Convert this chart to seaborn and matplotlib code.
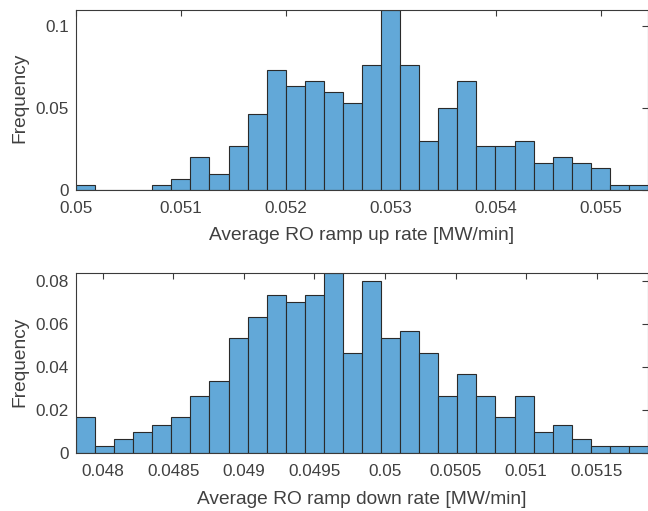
import numpy as np
import pandas as pd
import seaborn as sns
import matplotlib
matplotlib.use("Agg")
import matplotlib.pyplot as plt

# ---- data (counts per bin, 300 samples each; plotted as relative frequency) ----
up_range = [0.05, 0.05545]          # bin limits, ramp up
up_counts = [1, 0, 0, 0, 1, 2, 6, 3, 8, 14, 22, 19, 20, 18, 16,
             23, 33, 23, 9, 15, 20, 8, 8, 9, 5, 6, 5, 4, 1, 1]
up_xticks = [0.05, 0.051, 0.052, 0.053, 0.054, 0.055]
up_xticklabels = ["0.05", "0.051", "0.052", "0.053", "0.054", "0.055"]
up_yticks = [0, 0.05, 0.1]
up_yticklabels = ["0", "0.05", "0.1"]

down_range = [0.047811, 0.051863]   # bin limits, ramp down
down_counts = [5, 1, 2, 3, 4, 5, 8, 10, 16, 19, 22, 21, 22, 25, 14,
               24, 16, 17, 14, 8, 11, 8, 5, 8, 3, 4, 2, 1, 1, 1]
down_xticks = [0.048, 0.0485, 0.049, 0.0495, 0.05, 0.0505, 0.051, 0.0515]
down_xticklabels = ["0.048", "0.0485", "0.049", "0.0495", "0.05", "0.0505", "0.051", "0.0515"]
down_yticks = [0, 0.02, 0.04, 0.06, 0.08]
down_yticklabels = ["0", "0.02", "0.04", "0.06", "0.08"]

labels_x = ["Average RO ramp up rate [MW/min]", "Average RO ramp down rate [MW/min]"]
label_y = "Frequency"

# ---- style ----
sns.set_style("white")
plt.rcParams["font.family"] = ["Liberation Sans", "DejaVu Sans"]
BAR = "#62a8d8"
EDGE = "#2a2a2a"
AX = "#3a3a3a"
TXT = "#404040"

W, H = 648, 511
fig = plt.figure(figsize=(W / 100, H / 100), dpi=100)
ax1 = fig.add_axes([76 / W, 1 - 190 / H, 572 / W, 180 / H])
ax2 = fig.add_axes([76 / W, 1 - 453.3 / H, 572 / W, 180 / H])


def draw(ax, rng, counts, xt, xtl, yt, ytl, xlabel, ytop):
    edges = [float(e) for e in np.linspace(rng[0], rng[1], len(counts) + 1)]
    centers = [(a + b) / 2 for a, b in zip(edges[:-1], edges[1:])]
    df = pd.DataFrame({"x": centers, "w": counts})
    sns.histplot(data=df, x="x", weights="w", bins=edges, stat="probability",
                 color=BAR, edgecolor=EDGE, linewidth=0.8, alpha=1.0, ax=ax)
    ax.set_xlim(rng[0], rng[1])
    ax.set_ylim(0, ytop)
    ax.set_xticks(xt)
    ax.set_xticklabels(xtl)
    ax.set_yticks(yt)
    ax.set_yticklabels(ytl)
    ax.tick_params(direction="in", length=4, width=0.8, color=AX,
                   top=True, right=True, labelsize=12.3, labelcolor=TXT)
    ax.tick_params(axis="x", pad=8)
    ax.tick_params(axis="y", pad=5)
    for s in ax.spines.values():
        s.set_color(AX)
        s.set_linewidth(0.8)
        s.set_visible(True)
    ax.set_xlabel(xlabel, fontsize=13.8, color=TXT, labelpad=8)
    ax.set_ylabel(label_y, fontsize=13.8, color=TXT)
    ax.yaxis.set_label_coords(-48 / 572, 0.51)


draw(ax1, up_range, up_counts, up_xticks, up_xticklabels, up_yticks, up_yticklabels,
     labels_x[0], max(up_counts) / sum(up_counts))
draw(ax2, down_range, down_counts, down_xticks, down_xticklabels, down_yticks, down_yticklabels,
     labels_x[1], max(down_counts) / sum(down_counts))

fig.savefig("out.png", dpi=100)
